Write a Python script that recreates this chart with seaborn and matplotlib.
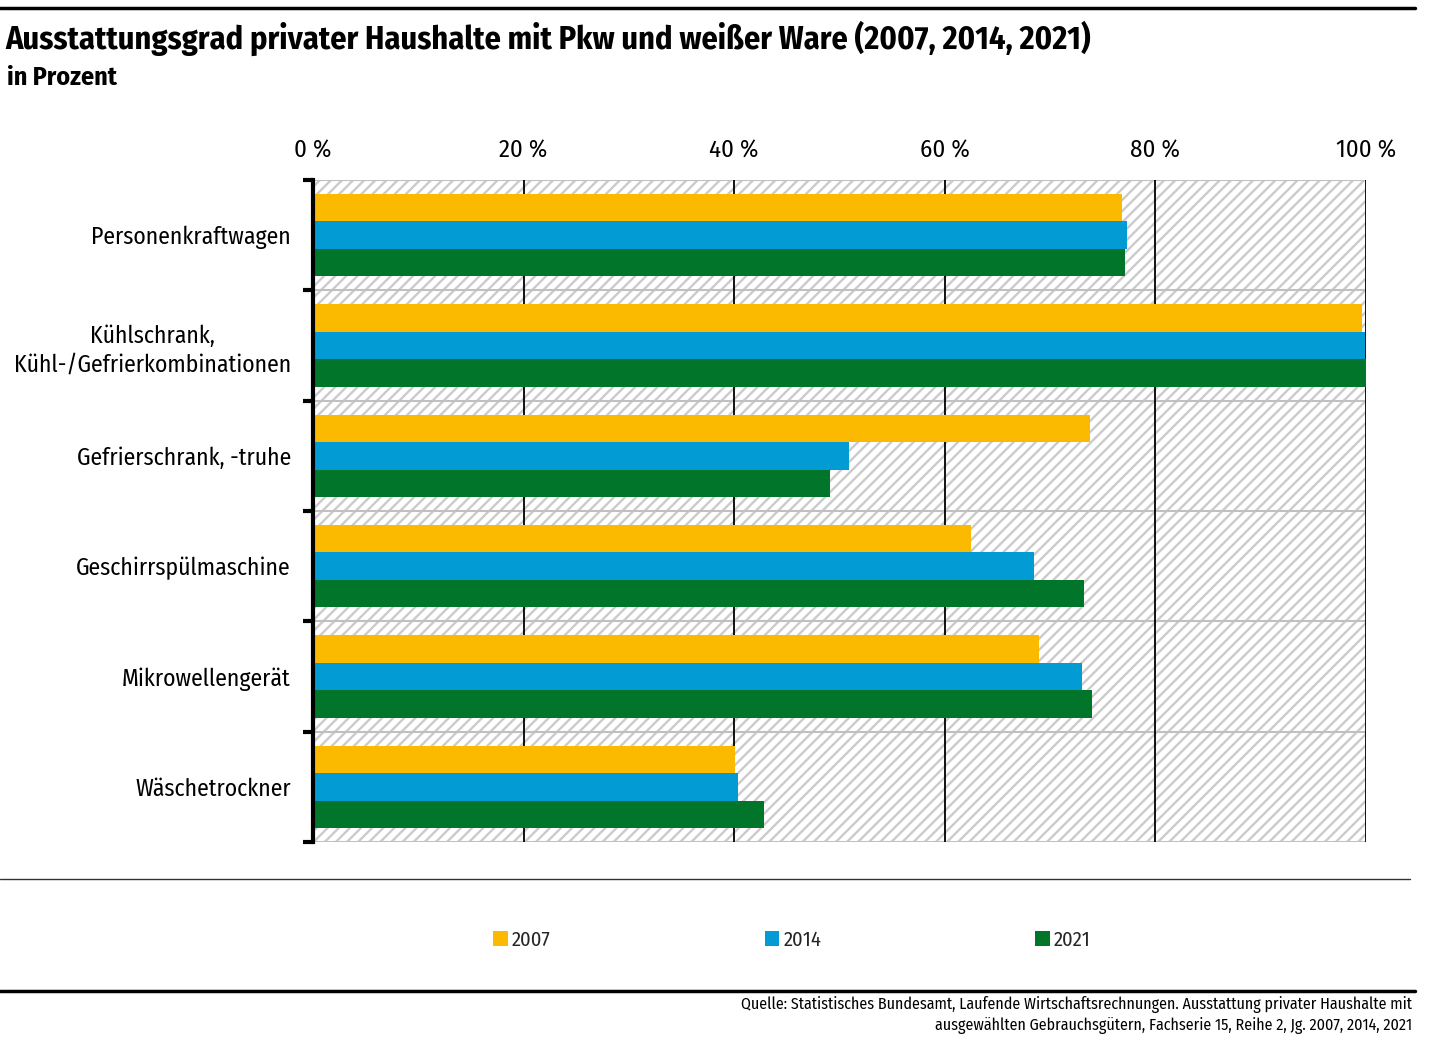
import matplotlib
matplotlib.use("Agg")
import matplotlib.pyplot as plt
import seaborn as sns
import pandas as pd
from matplotlib import font_manager
from matplotlib.patches import Rectangle
from matplotlib.lines import Line2D

categories = [
    "Personenkraftwagen",
    "Kühlschrank,\nKühl-/Gefrierkombinationen",
    "Gefrierschrank, -truhe",
    "Geschirrspülmaschine",
    "Mikrowellengerät",
    "Wäschetrockner",
]
years = ["2007", "2014", "2021"]
values_2007 = [76.8, 99.6, 73.8, 62.5, 68.9, 40.1]
values_2014 = [77.3, 99.9, 50.9, 68.5, 73.0, 40.4]
values_2021 = [77.1, 100.0, 49.1, 73.2, 74.0, 42.8]
colors = ["#fbba00", "#039bd4", "#017529"]
x_ticks = [0, 20, 40, 60, 80, 100]
x_ticklabels = ["0 %", "20 %", "40 %", "60 %", "80 %", "100 %"]

title = "Ausstattungsgrad privater Haushalte mit Pkw und weißer Ware (2007, 2014, 2021)"
subtitle = "in Prozent"
source = ("Quelle: Statistisches Bundesamt, Laufende Wirtschaftsrechnungen. Ausstattung privater Haushalte mit\n"
          "ausgewählten Gebrauchsgütern, Fachserie 15, Reihe 2, Jg. 2007, 2014, 2021")

rows = []
for y, vals in zip(years, [values_2007, values_2014, values_2021]):
    for c, v in zip(categories, vals):
        rows.append({"Kategorie": c, "Jahr": y, "Wert": v})
df = pd.DataFrame(rows)

sns.set_theme(style="white")
names = {f.name for f in font_manager.fontManager.ttflist}
fam = "DejaVu Sans"
for cand in ["Fira Sans Condensed", "Roboto Condensed", "Asap Condensed",
             "Archivo Narrow", "Liberation Sans Narrow"]:
    if cand in names:
        fam = cand
        break
plt.rcParams["font.family"] = [fam, "DejaVu Sans"]
plt.rcParams["hatch.linewidth"] = 1.7

W, H = 1431, 1042
fig = plt.figure(figsize=(W / 100, H / 100), dpi=100)
renderer = fig.canvas.get_renderer()


def fit_size(text, target_px, weight="normal", base=20):
    t = fig.text(0, 0, text, fontsize=base, fontweight=weight)
    w = t.get_window_extent(renderer).width
    t.remove()
    return base * target_px / w


ax = fig.add_axes([313 / W, 1 - 842 / H, (1366 - 313) / W, (842 - 180) / H])

bg = Rectangle((0, 0), 1, 1, transform=ax.transAxes, facecolor="white",
               edgecolor="#cbcbcb", hatch="///", linewidth=0, zorder=0.1)
ax.add_patch(bg)

sns.barplot(data=df, y="Kategorie", x="Wert", hue="Jahr", palette=colors,
            orient="h", width=0.745, saturation=1, ax=ax, legend=False,
            errorbar=None, linewidth=0, edgecolor="none", zorder=2)

ax.set_xlim(0, 100)
ax.set_ylim(5.5, -0.5)
bounds = [-0.5, 0.5, 1.5, 2.5, 3.5, 4.5, 5.5]
for b in bounds:
    ax.axhline(b, color="#c0c0c0", lw=1.5, zorder=0.3)
for xv in x_ticks[1:]:
    ax.axvline(xv, color="black", lw=1.3, zorder=0.5)

tick_fs = fit_size("100 %", 60)
cat_fs = fit_size("Personenkraftwagen", 201)

ax.set_xticks(x_ticks)
ax.set_xticklabels(x_ticklabels)
ax.xaxis.tick_top()
ax.tick_params(axis="x", length=0, pad=13, labelsize=tick_fs, colors="black")
ax.set_yticks(range(len(categories)))
ax.set_yticklabels(categories, multialignment="center", linespacing=1.3)
ax.tick_params(axis="y", which="major", length=0, pad=16, labelsize=cat_fs, colors="black")
ax.set_yticks(bounds, minor=True)
ax.tick_params(axis="y", which="minor", direction="out", length=7, width=3,
               color="black", left=True)
ax.set_xlabel("")
ax.set_ylabel("")
for s in ["top", "bottom", "right"]:
    ax.spines[s].set_visible(False)
ax.spines["left"].set_color("black")
ax.spines["left"].set_linewidth(3)
ax.spines["left"].set_zorder(5)

title_fs = fit_size(title, 1088, weight="bold")
sub_fs = fit_size(subtitle, 110, weight="bold")
fig.text(5 / W, 1 - 38 / H, title, fontsize=title_fs, fontweight="bold",
         va="center", ha="left", color="black")
fig.text(7 / W, 1 - 78 / H, subtitle, fontsize=sub_fs, fontweight="bold",
         va="center", ha="left", color="black")

fig.add_artist(Line2D([0, 1415 / W], [1 - 8 / H] * 2, color="black", lw=2.5))
fig.add_artist(Line2D([0, 1410 / W], [1 - 879 / H] * 2, color="#333333", lw=1))
fig.add_artist(Line2D([0, 1415 / W], [1 - 991 / H] * 2, color="black", lw=2.5))

leg_fs = fit_size("2007", 39)
handles = [Rectangle((0, 0), 1, 1, facecolor=c, linewidth=0) for c in colors]
leg = fig.legend(handles, years, loc="center", bbox_to_anchor=(792 / W, 1 - 940 / H),
                 ncol=3, frameon=False, fontsize=leg_fs, handlelength=0.7,
                 handleheight=0.7, handletextpad=0.2, columnspacing=10.4)

src_fs = fit_size(source.split("\n")[0], 672)
fig.text(1412 / W, 1 - 1015 / H, source, fontsize=src_fs, ha="right", va="center",
         multialignment="right", linespacing=1.35, color="black")

fig.savefig("out.png", dpi=100)
